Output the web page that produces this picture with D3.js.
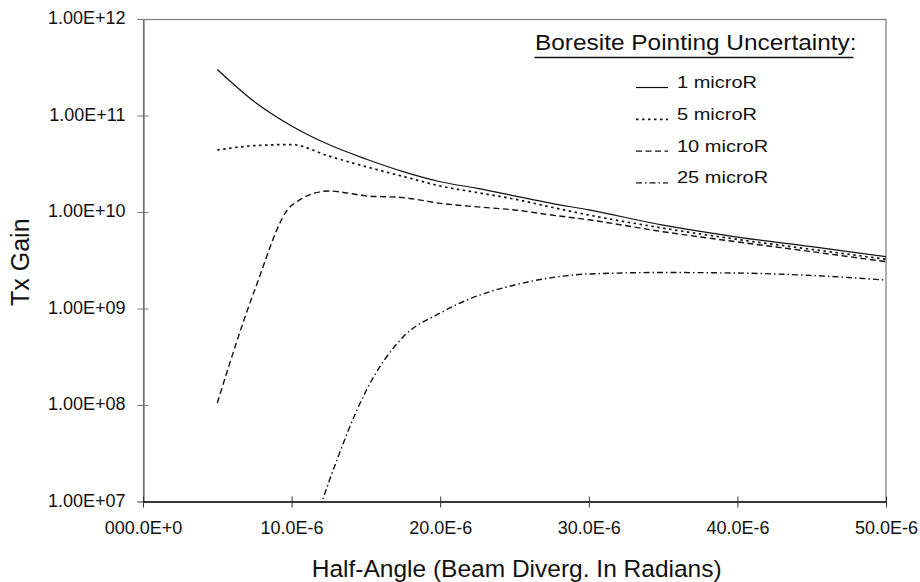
<!DOCTYPE html>
<html>
<head>
<meta charset="utf-8">
<script src="https://cdn.jsdelivr.net/npm/d3@7"></script>
<style>
body { margin: 0; background: #fff; }
</style>
</head>
<body>
<div class="graph"></div>
<script>
//Half-angle values (radians) where the curves were read
const halfAngle = [5e-6, 7.5e-6, 10e-6, 12.5e-6, 15e-6, 17.5e-6, 20e-6, 22.5e-6, 25e-6, 27.5e-6, 30e-6, 35e-6, 40e-6, 45e-6, 50e-6];

//Tx gain for each pointing uncertainty
const gain1 = [3.0e11, 1.39e11, 7.8e10, 5.0e10, 3.54e10, 2.62e10, 2.06e10, 1.76e10, 1.47e10, 1.23e10, 1.05e10, 7.3e9, 5.5e9, 4.37e9, 3.44e9];
const gain5 = [4.39e10, 4.87e10, 5.0e10, 3.8e10, 2.95e10, 2.34e10, 1.86e10, 1.59e10, 1.36e10, 1.12e10, 9.3e9, 6.8e9, 5.2e9, 4.1e9, 3.24e9];
const gain10 = [1.05e8, 1.53e9, 1.17e10, 1.65e10, 1.47e10, 1.41e10, 1.23e10, 1.13e10, 1.05e10, 9.3e9, 8.3e9, 6.25e9, 4.9e9, 3.88e9, 3.06e9];
const gain25 = [null, null, 1.0e6, 1.58e7, 1.39e8, 5.07e8, 8.97e8, 1.35e9, 1.75e9, 2.09e9, 2.28e9, 2.36e9, 2.33e9, 2.2e9, 1.97e9];

const seriesNames = ["1 microR", "5 microR", "10 microR", "25 microR"];

//Axis ticks and their labels
const xTicks = [0, 10e-6, 20e-6, 30e-6, 40e-6, 50e-6];
const xTickLabels = ["000.0E+0", "10.0E-6", "20.0E-6", "30.0E-6", "40.0E-6", "50.0E-6"];
const yTicks = [1e7, 1e8, 1e9, 1e10, 1e11, 1e12];
const yTickLabels = ["1.00E+07", "1.00E+08", "1.00E+09", "1.00E+10", "1.00E+11", "1.00E+12"];

const FONT = "'Liberation Sans', Arial, sans-serif";
const WIDTH = 920, HEIGHT = 582;
const LEFT = 143, RIGHT = 886, TOP = 19, BOTTOM = 501.5;

//Line look for each series
const dashes = [null, "2.5,3.5", "6,3.5", "6,3,1.5,3"];
const widths = [1.2, 1.7, 1.4, 1.4];

let svg = d3.select(".graph")
    .append("svg")
    .attr("width", WIDTH)
    .attr("height", HEIGHT)
    .style("font-family", FONT);

let x = d3.scaleLinear().domain([0, 50e-6]).range([LEFT, RIGHT]);
let y = d3.scaleLog().domain([1e7, 1e12]).range([BOTTOM, TOP]);

svg.append("defs").append("clipPath").attr("id", "plot")
    .append("rect")
    .attr("x", LEFT).attr("y", TOP)
    .attr("width", RIGHT - LEFT).attr("height", BOTTOM - TOP + 1);

//Frame round the plot
svg.append("rect")
    .attr("x", LEFT + 0.5).attr("y", TOP + 0.5)
    .attr("width", RIGHT - LEFT - 0.5).attr("height", BOTTOM - TOP)
    .attr("fill", "none")
    .attr("stroke", "#7a7a7a")
    .attr("stroke-width", 1.2);

//Y axis
svg.append("g")
    .attr("transform", `translate(${LEFT + 0.5}, 0)`)
    .call(d3.axisLeft(y).tickValues(yTicks).tickFormat((d, i) => yTickLabels[i]).tickSize(6))
    .call(g => {
        g.attr("font-family", FONT).attr("font-size", 18);
        g.select(".domain").attr("stroke", "#6a6a6a").attr("stroke-width", 1.2);
        g.selectAll(".tick line").attr("x1", 5).attr("x2", -6).attr("stroke", "#777");
        g.selectAll(".tick text").attr("x", -18).attr("dy", "0.27em").attr("fill", "#111");
    });

//X axis
svg.append("g")
    .attr("transform", `translate(0, ${BOTTOM})`)
    .call(d3.axisBottom(x).tickValues(xTicks).tickFormat((d, i) => xTickLabels[i]).tickSize(6).tickSizeOuter(0))
    .call(g => {
        g.attr("font-family", FONT).attr("font-size", 18);
        g.select(".domain").attr("stroke", "#111").attr("stroke-width", 1.5);
        g.selectAll(".tick line").attr("y1", -5).attr("y2", 6).attr("stroke", "#333");
        g.selectAll(".tick text").attr("y", 19.5).attr("dy", "0.71em").attr("fill", "#111");
    });

//Axis titles
svg.append("text")
    .attr("x", 516.7).attr("y", 576.5)
    .attr("text-anchor", "middle")
    .attr("font-size", 24.5)
    .attr("fill", "#111")
    .text("Half-Angle (Beam Diverg. In Radians)");

svg.append("text")
    .attr("transform", "translate(29.3, 262.2) rotate(-90)")
    .attr("text-anchor", "middle")
    .attr("font-size", 25)
    .attr("fill", "#111")
    .text("Tx Gain");

//Curves
const allGains = [gain1, gain5, gain10, gain25];
const line = d3.line()
    .defined(d => d[1] != null)
    .x(d => x(d[0]))
    .y(d => y(d[1]))
    .curve(d3.curveMonotoneX);

svg.append("g")
    .attr("clip-path", "url(#plot)")
    .selectAll("path")
    .data(allGains)
    .enter()
    .append("path")
    .attr("d", gains => line(halfAngle.map((h, i) => [h, gains[i]])))
    .attr("fill", "none")
    .attr("stroke", "#111")
    .attr("stroke-width", (d, i) => widths[i])
    .attr("stroke-dasharray", (d, i) => dashes[i]);

//Legend
let legend = svg.append("g");

legend.append("text")
    .attr("transform", "translate(535, 50) scale(1.11, 1)")
    .attr("font-size", 22)
    .attr("fill", "#111")
    .text("Boresite Pointing Uncertainty:");

legend.append("line")
    .attr("x1", 534.5).attr("x2", 853.5)
    .attr("y1", 57.5).attr("y2", 57.5)
    .attr("stroke", "#111")
    .attr("stroke-width", 1.6);

legend.selectAll(".sample")
    .data(seriesNames)
    .enter()
    .append("line")
    .attr("x1", 636).attr("x2", 668)
    .attr("y1", (d, i) => 87.5 + i * 31.8)
    .attr("y2", (d, i) => 87.5 + i * 31.8)
    .attr("stroke", "#111")
    .attr("stroke-width", (d, i) => widths[i])
    .attr("stroke-dasharray", (d, i) => dashes[i]);

legend.selectAll(".label")
    .data(seriesNames)
    .enter()
    .append("text")
    .attr("transform", (d, i) => `translate(677, ${88 + i * 31.8}) scale(1.25, 1)`)
    .attr("font-size", 16)
    .attr("fill", "#111")
    .text(d => d);
</script>
</body>
</html>
